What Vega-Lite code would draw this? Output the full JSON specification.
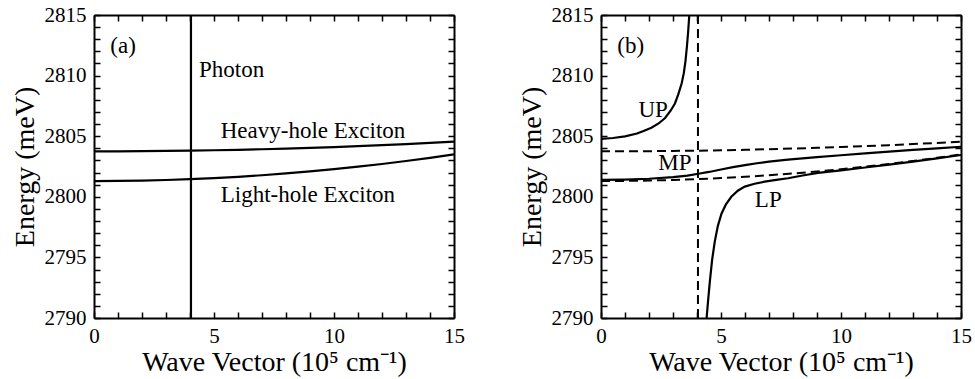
{
  "$schema": "https://vega.github.io/schema/vega-lite/v6.json",
  "padding": {"left": 11, "top": 4, "right": 5, "bottom": 5},
  "spacing": 53,
  "config": {
    "view": {"stroke": null},
    "font": "Liberation Serif",
    "axis": {
      "labelFont": "Liberation Serif", "titleFont": "Liberation Serif",
      "labelFontSize": 21, "titleFontSize": 28, "titleFontWeight": "normal",
      "labelColor": "black", "titleColor": "black",
      "domainColor": "black", "domainWidth": 2,
      "tickColor": "black", "tickWidth": 1.5,
      "grid": false, "labelFlush": false, "labelOverlap": false
    }
  },
  "datasets": {
    "curves": [
      {"series": "HH", "k": 0, "E": 2803.75}, {"series": "HH", "k": 1, "E": 2803.754}, {"series": "HH", "k": 2, "E": 2803.764}, {"series": "HH", "k": 3, "E": 2803.782}, {"series": "HH", "k": 4, "E": 2803.807}, {"series": "HH", "k": 5, "E": 2803.839}, {"series": "HH", "k": 6, "E": 2803.878}, {"series": "HH", "k": 7, "E": 2803.924}, {"series": "HH", "k": 8, "E": 2803.978}, {"series": "HH", "k": 9, "E": 2804.038}, {"series": "HH", "k": 10, "E": 2804.106}, {"series": "HH", "k": 11, "E": 2804.18}, {"series": "HH", "k": 12, "E": 2804.262}, {"series": "HH", "k": 13, "E": 2804.351}, {"series": "HH", "k": 14, "E": 2804.447}, {"series": "HH", "k": 15, "E": 2804.55},
      {"series": "LH", "k": 0, "E": 2801.3}, {"series": "LH", "k": 1, "E": 2801.31}, {"series": "LH", "k": 2, "E": 2801.339}, {"series": "LH", "k": 3, "E": 2801.388}, {"series": "LH", "k": 4, "E": 2801.456}, {"series": "LH", "k": 5, "E": 2801.544}, {"series": "LH", "k": 6, "E": 2801.652}, {"series": "LH", "k": 7, "E": 2801.779}, {"series": "LH", "k": 8, "E": 2801.926}, {"series": "LH", "k": 9, "E": 2802.092}, {"series": "LH", "k": 10, "E": 2802.278}, {"series": "LH", "k": 11, "E": 2802.483}, {"series": "LH", "k": 12, "E": 2802.708}, {"series": "LH", "k": 13, "E": 2802.952}, {"series": "LH", "k": 14, "E": 2803.216}, {"series": "LH", "k": 15, "E": 2803.5},
      {"series": "Photon", "k": 4.04, "E": 2790}, {"series": "Photon", "k": 4.04, "E": 2815},
      {"series": "UP", "k": 0, "E": 2804.78}, {"series": "UP", "k": 0.5, "E": 2804.85}, {"series": "UP", "k": 1.0, "E": 2804.98}, {"series": "UP", "k": 1.5, "E": 2805.22}, {"series": "UP", "k": 1.8, "E": 2805.45}, {"series": "UP", "k": 2.1, "E": 2805.7}, {"series": "UP", "k": 2.4, "E": 2806.05}, {"series": "UP", "k": 2.67, "E": 2806.5}, {"series": "UP", "k": 2.9, "E": 2807.1}, {"series": "UP", "k": 3.08, "E": 2807.7}, {"series": "UP", "k": 3.22, "E": 2808.45}, {"series": "UP", "k": 3.36, "E": 2809.35}, {"series": "UP", "k": 3.45, "E": 2810.2}, {"series": "UP", "k": 3.52, "E": 2811.2}, {"series": "UP", "k": 3.58, "E": 2812.4}, {"series": "UP", "k": 3.63, "E": 2813.6}, {"series": "UP", "k": 3.68, "E": 2815},
      {"series": "MP", "k": 0, "E": 2801.39}, {"series": "MP", "k": 1, "E": 2801.42}, {"series": "MP", "k": 2, "E": 2801.49}, {"series": "MP", "k": 3, "E": 2801.62}, {"series": "MP", "k": 3.6, "E": 2801.75}, {"series": "MP", "k": 4.12, "E": 2801.92}, {"series": "MP", "k": 4.5, "E": 2802.05}, {"series": "MP", "k": 5.0, "E": 2802.25}, {"series": "MP", "k": 5.5, "E": 2802.45}, {"series": "MP", "k": 6.0, "E": 2802.62}, {"series": "MP", "k": 6.5, "E": 2802.77}, {"series": "MP", "k": 7.0, "E": 2802.9}, {"series": "MP", "k": 7.79, "E": 2803.07}, {"series": "MP", "k": 9, "E": 2803.27}, {"series": "MP", "k": 10, "E": 2803.43}, {"series": "MP", "k": 11, "E": 2803.58}, {"series": "MP", "k": 12, "E": 2803.73}, {"series": "MP", "k": 13, "E": 2803.87}, {"series": "MP", "k": 14, "E": 2804.0}, {"series": "MP", "k": 15, "E": 2804.13},
      {"series": "LP", "k": 4.4, "E": 2790}, {"series": "LP", "k": 4.47, "E": 2791.6}, {"series": "LP", "k": 4.54, "E": 2793.1}, {"series": "LP", "k": 4.63, "E": 2794.8}, {"series": "LP", "k": 4.74, "E": 2796.3}, {"series": "LP", "k": 4.87, "E": 2797.6}, {"series": "LP", "k": 5.02, "E": 2798.6}, {"series": "LP", "k": 5.2, "E": 2799.35}, {"series": "LP", "k": 5.43, "E": 2800.0}, {"series": "LP", "k": 5.7, "E": 2800.5}, {"series": "LP", "k": 5.99, "E": 2800.84}, {"series": "LP", "k": 6.4, "E": 2801.08}, {"series": "LP", "k": 6.82, "E": 2801.25}, {"series": "LP", "k": 7.3, "E": 2801.4}, {"series": "LP", "k": 7.79, "E": 2801.53}, {"series": "LP", "k": 8.4, "E": 2801.76}, {"series": "LP", "k": 9.04, "E": 2801.98}, {"series": "LP", "k": 10, "E": 2802.18}, {"series": "LP", "k": 11, "E": 2802.42}, {"series": "LP", "k": 12, "E": 2802.65}, {"series": "LP", "k": 13, "E": 2802.9}, {"series": "LP", "k": 14, "E": 2803.17}, {"series": "LP", "k": 15, "E": 2803.45}
    ],
    "labels": [
      {"panel": "a", "grp": 1, "text": "(a)", "k": 0.68, "E": 2811.9},
      {"panel": "a", "grp": 1, "text": "Photon", "k": 4.375, "E": 2809.86},
      {"panel": "a", "grp": 2, "text": "Heavy-hole Exciton", "k": 5.28, "E": 2804.83},
      {"panel": "a", "grp": 2, "text": "Light-hole Exciton", "k": 5.28, "E": 2799.55},
      {"panel": "b", "grp": 1, "text": "(b)", "k": 0.68, "E": 2811.9},
      {"panel": "b", "grp": 1, "text": "UP", "k": 1.56, "E": 2806.61},
      {"panel": "b", "grp": 2, "text": "MP", "k": 2.39, "E": 2802.21},
      {"panel": "b", "grp": 2, "text": "LP", "k": 6.41, "E": 2799.13}
    ]
  },
  "hconcat": [
    {
      "width": 360, "height": 303,
      "resolve": {"axis": {"x": "independent", "y": "independent"}},
      "layer": [
        {
          "data": {"name": "curves"},
          "transform": [{"filter": {"field": "series", "oneOf": ["HH", "LH"]}}],
          "mark": {"type": "line", "color": "black", "strokeWidth": 2.2, "clip": true},
          "encoding": {
            "x": {"field": "k", "type": "quantitative", "scale": {"domain": [0, 15], "nice": false, "zero": false},
              "axis": {"orient": "bottom", "title": "Wave Vector (10⁵ cm⁻¹)", "values": [0, 5, 10, 15], "format": "d", "ticks": false, "labelPadding": 7, "titlePadding": 2}},
            "y": {"field": "E", "type": "quantitative", "scale": {"domain": [2790, 2815], "nice": false, "zero": false},
              "axis": {"orient": "left", "title": "Energy (meV)", "values": [2790, 2795, 2800, 2805, 2810, 2815], "format": "d", "ticks": false, "labelPadding": 8, "titlePadding": 5}},
            "detail": {"field": "series"},
            "order": {"value": null}
          }
        },
        {
          "data": {"name": "curves"},
          "transform": [{"filter": {"field": "series", "equal": "Photon"}}],
          "mark": {"type": "line", "color": "black", "strokeWidth": 2.2, "clip": true},
          "encoding": {
            "x": {"field": "k", "type": "quantitative", "axis": {"orient": "top", "title": null, "labels": false, "ticks": false, "values": [0, 5, 10, 15]}},
            "y": {"field": "E", "type": "quantitative", "axis": {"orient": "right", "title": null, "labels": false, "ticks": false, "values": [2790, 2815]}},
            "order": {"value": null}
          }
        },
        {
          "data": {"name": "labels"},
          "transform": [{"filter": "datum.panel === 'a' && datum.grp === 1"}],
          "mark": {"type": "text", "align": "left", "baseline": "alphabetic", "font": "Liberation Serif", "fontSize": 23, "color": "black"},
          "encoding": {
            "x": {"field": "k", "type": "quantitative", "axis": {"orient": "bottom", "offset": -6, "zindex": 1, "domain": false, "title": null, "labels": false, "ticks": true, "tickSize": 6, "values": [0,1,2,3,4,5,6,7,8,9,10,11,12,13,14,15]}},
            "y": {"field": "E", "type": "quantitative", "axis": {"orient": "left", "offset": -6, "zindex": 1, "domain": false, "title": null, "labels": false, "ticks": true, "tickSize": 6, "values": [2790,2791,2792,2793,2794,2795,2796,2797,2798,2799,2800,2801,2802,2803,2804,2805,2806,2807,2808,2809,2810,2811,2812,2813,2814,2815]}},
            "text": {"field": "text"}
          }
        },
        {
          "data": {"name": "labels"},
          "transform": [{"filter": "datum.panel === 'a' && datum.grp === 2"}],
          "mark": {"type": "text", "align": "left", "baseline": "alphabetic", "font": "Liberation Serif", "fontSize": 23, "color": "black"},
          "encoding": {
            "x": {"field": "k", "type": "quantitative", "axis": {"orient": "top", "offset": -6, "zindex": 1, "domain": false, "title": null, "labels": false, "ticks": true, "tickSize": 6, "values": [0,1,2,3,4,5,6,7,8,9,10,11,12,13,14,15]}},
            "y": {"field": "E", "type": "quantitative", "axis": {"orient": "right", "offset": -6, "zindex": 1, "domain": false, "title": null, "labels": false, "ticks": true, "tickSize": 6, "values": [2790,2791,2792,2793,2794,2795,2796,2797,2798,2799,2800,2801,2802,2803,2804,2805,2806,2807,2808,2809,2810,2811,2812,2813,2814,2815]}},
            "text": {"field": "text"}
          }
        }
      ]
    },
    {
      "width": 360, "height": 303,
      "resolve": {"axis": {"x": "independent", "y": "independent"}},
      "layer": [
        {
          "data": {"name": "curves"},
          "transform": [{"filter": {"field": "series", "oneOf": ["UP", "MP", "LP"]}}],
          "mark": {"type": "line", "color": "black", "strokeWidth": 2.2, "clip": true},
          "encoding": {
            "x": {"field": "k", "type": "quantitative", "scale": {"domain": [0, 15], "nice": false, "zero": false},
              "axis": {"orient": "bottom", "title": "Wave Vector (10⁵ cm⁻¹)", "values": [0, 5, 10, 15], "format": "d", "ticks": false, "labelPadding": 7, "titlePadding": 2}},
            "y": {"field": "E", "type": "quantitative", "scale": {"domain": [2790, 2815], "nice": false, "zero": false},
              "axis": {"orient": "left", "title": "Energy (meV)", "values": [2790, 2795, 2800, 2805, 2810, 2815], "format": "d", "ticks": false, "labelPadding": 8, "titlePadding": 5}},
            "detail": {"field": "series"},
            "order": {"value": null}
          }
        },
        {
          "data": {"name": "curves"},
          "transform": [{"filter": {"field": "series", "oneOf": ["HH", "LH", "Photon"]}}],
          "mark": {"type": "line", "color": "black", "strokeWidth": 2, "strokeDash": [9, 5], "clip": true},
          "encoding": {
            "x": {"field": "k", "type": "quantitative", "axis": {"orient": "top", "title": null, "labels": false, "ticks": false, "values": [0, 5, 10, 15]}},
            "y": {"field": "E", "type": "quantitative", "axis": {"orient": "right", "title": null, "labels": false, "ticks": false, "values": [2790, 2815]}},
            "detail": {"field": "series"},
            "order": {"value": null}
          }
        },
        {
          "data": {"name": "labels"},
          "transform": [{"filter": "datum.panel === 'b' && datum.grp === 1"}],
          "mark": {"type": "text", "align": "left", "baseline": "alphabetic", "font": "Liberation Serif", "fontSize": 23, "color": "black"},
          "encoding": {
            "x": {"field": "k", "type": "quantitative", "axis": {"orient": "bottom", "offset": -6, "zindex": 1, "domain": false, "title": null, "labels": false, "ticks": true, "tickSize": 6, "values": [0,1,2,3,4,5,6,7,8,9,10,11,12,13,14,15]}},
            "y": {"field": "E", "type": "quantitative", "axis": {"orient": "left", "offset": -6, "zindex": 1, "domain": false, "title": null, "labels": false, "ticks": true, "tickSize": 6, "values": [2790,2791,2792,2793,2794,2795,2796,2797,2798,2799,2800,2801,2802,2803,2804,2805,2806,2807,2808,2809,2810,2811,2812,2813,2814,2815]}},
            "text": {"field": "text"}
          }
        },
        {
          "data": {"name": "labels"},
          "transform": [{"filter": "datum.panel === 'b' && datum.grp === 2"}],
          "mark": {"type": "text", "align": "left", "baseline": "alphabetic", "font": "Liberation Serif", "fontSize": 23, "color": "black"},
          "encoding": {
            "x": {"field": "k", "type": "quantitative", "axis": {"orient": "top", "offset": -6, "zindex": 1, "domain": false, "title": null, "labels": false, "ticks": true, "tickSize": 6, "values": [0,1,2,3,4,5,6,7,8,9,10,11,12,13,14,15]}},
            "y": {"field": "E", "type": "quantitative", "axis": {"orient": "right", "offset": -6, "zindex": 1, "domain": false, "title": null, "labels": false, "ticks": true, "tickSize": 6, "values": [2790,2791,2792,2793,2794,2795,2796,2797,2798,2799,2800,2801,2802,2803,2804,2805,2806,2807,2808,2809,2810,2811,2812,2813,2814,2815]}},
            "text": {"field": "text"}
          }
        }
      ]
    }
  ]
}
